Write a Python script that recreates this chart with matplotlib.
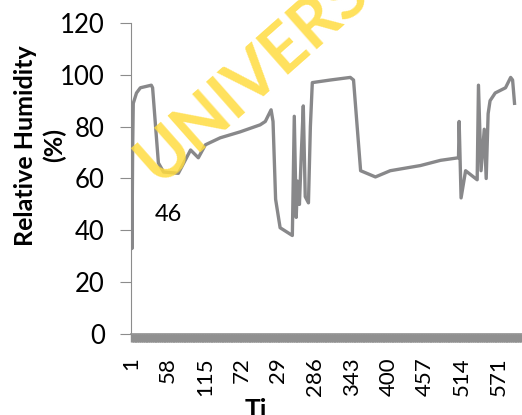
import matplotlib
matplotlib.use("Agg")
import matplotlib.pyplot as plt
from matplotlib.ticker import MultipleLocator

# time index (category number) and relative humidity
time_idx = [1, 2, 3, 4, 9, 15, 32, 34, 43, 51, 74, 93, 105, 116, 139, 170,
            201, 209, 218, 221, 225, 232, 251, 254, 257, 259, 262, 265, 268,
            271, 276, 279, 282, 310, 341, 346, 357, 380, 403, 450, 481, 509,
            510, 513, 520, 538, 540, 544, 549, 552, 555, 558, 566, 582, 590,
            593, 596]
rh = [86, 33, 71, 89, 93, 95, 96, 95, 66, 62.5, 62, 71, 68, 73, 75.7, 78,
      80.7, 82, 86.5, 82, 52, 41, 38, 84, 45, 59, 50, 70, 88,
      53, 50.6, 80, 97, 98, 99, 98, 63, 60.6, 63, 65, 67, 68,
      82, 52.5, 63, 59.5, 96, 63, 79, 60, 85, 90, 93, 95, 99,
      98, 89]

tick_pos = [1, 58, 115, 172, 229, 286, 343, 400, 457, 514, 571]
tick_labels = ["1", "58", "115", "72", "29", "286", "343", "400", "457", "514", "571"]
y_ticks = [0, 20, 40, 60, 80, 100, 120]

FONT = ["Lato", "DejaVu Sans"]
AXIS_GRAY = "#8c8c8c"

fig = plt.figure(figsize=(5.22, 4.15), dpi=100)
ax = fig.add_axes([0.251, 0.1952, 0.749, 0.7494])

ax.plot(time_idx, rh, color="#88888a", linewidth=2.4, solid_joinstyle="round", zorder=3)

ax.set_xlim(0.5, 607.6)
ax.set_ylim(0, 120)
ax.set_yticks(y_ticks)
ax.set_xticks(tick_pos)
ax.set_xticklabels(tick_labels, rotation=90, fontsize=16, family=FONT)
ax.set_yticklabels([str(v) for v in y_ticks], fontsize=18.5, family=FONT)
ax.xaxis.set_minor_locator(MultipleLocator(1))

ax.tick_params(axis="y", direction="out", length=8, width=0.8, color=AXIS_GRAY, pad=11)
ax.tick_params(axis="x", which="both", direction="out", length=6, width=1.0,
               color="#909090", pad=11)

for side in ("top", "right"):
    ax.spines[side].set_visible(False)
ax.spines["left"].set_color(AXIS_GRAY)
ax.spines["left"].set_linewidth(0.8)
ax.spines["bottom"].set_color("#909090")
ax.spines["bottom"].set_linewidth(1.2)

ax.text(38, 46, "46", fontsize=17, family=FONT, ha="left", va="center")

fig.text(0.077, 0.65, "Relative Humidity\n(%)", rotation=90, ha="center", va="center",
         fontsize=18, fontweight="bold", family=FONT, linespacing=1.3)
fig.text(0.491, 0.012, "Ti", ha="center", va="center", fontsize=19,
         fontweight="bold", family=FONT)

# scanned watermark
fig.text(0.305, 0.553, "UNIVERSITY", rotation=41.5, rotation_mode="anchor",
         ha="left", va="baseline", fontsize=48, fontweight="bold",
         color="#ffdc40", alpha=0.85, family=FONT, zorder=5)

fig.savefig("out.png", dpi=100)
